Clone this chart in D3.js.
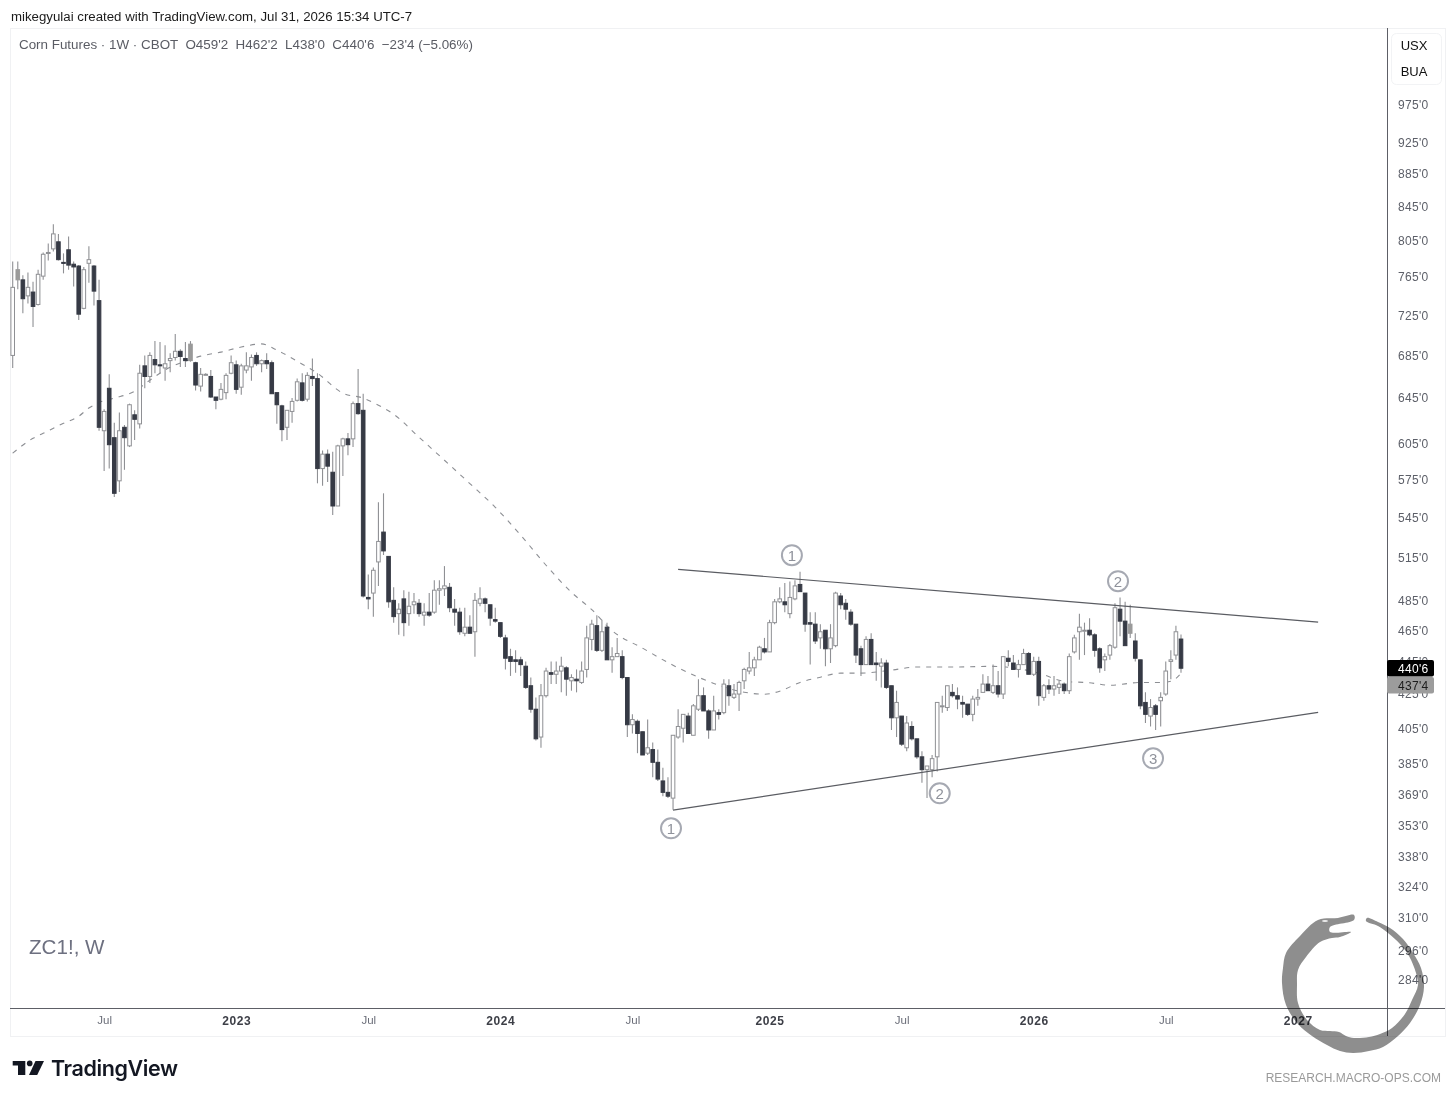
<!DOCTYPE html>
<html>
<head>
<meta charset="utf-8">
<script src="https://cdn.jsdelivr.net/npm/d3@7"></script>
<style>
  html, body { margin: 0; padding: 0; background: #fff; }
  svg { display: block; }
</style>
</head>
<body>
<div id="chart"></div>
<script>
// Corn futures weekly candles. Prices are in cents.

// ---------------------------------------------------------------------------
// Data
// ---------------------------------------------------------------------------

const FIRST_BAR = "2022-02-28";

const opens = [
  685,762,762,745,749,736,766,791,796,804,
  781,795,779,777,732,780,777,740,616,654,
  610,574,619,603,630,622,675,665,681,676,
  673,680,683,689,682,680,678,656,667,665,
  646,644,650,668,676,655,671,674,685,677,
  680,678,650,638,619,633,643,659,644,665,
  663,584,596,581,554,603,609,609,640,634,
  487,490,512,534,516,485,476,486,476,482,
  483,475,477,477,492,493,494,479,477,463,
  467,464,483,486,482,472,470,460,448,446,
  446,442,430,416,400,424,438,437,439,441,
  433,434,432,440,459,468,452,467,446,448,
  448,435,407,409,403,391,393,386,376,370,
  367,400,405,412,401,416,424,415,404,414,
  414,430,423,425,433,439,441,446,453,451,
  470,484,484,476,486,496,490,470,469,460,
  465,453,455,488,483,477,469,453,443,459,
  444,442,444,430,411,412,394,406,399,389,
  382,382,389,418,417,426,424,420,419,413,
  422,426,431,426,430,425,447,444,440,443,
  450,437,445,423,430,428,429,431,427,451,
  464,465,465,462,453,446,449,454,479,471,
  463,458,446,420,412,418,421,425,445,449,459.25
];
const highs = [
  782,782,767,770,760,773,792,802,824,813,
  791,810,782,778,776,799,778,762,635,667,
  623,632,621,640,634,676,685,688,699,698,
  695,687,706,691,698,699,679,673,668,671,
  646,659,668,685,680,677,688,686,688,681,
  687,680,650,639,634,645,663,668,669,682,
  668,599,600,598,604,610,614,642,672,649,
  503,508,557,564,516,494,483,492,491,490,
  486,483,490,499,499,509,497,486,480,480,
  475,490,494,487,482,480,470,462,453,452,
  448,445,435,423,431,441,445,445,448,442,
  437,440,445,468,472,475,472,470,454,460,
  452,435,413,410,403,410,397,393,383,378,
  401,416,413,414,419,434,429,416,424,416,
  434,434,431,433,441,451,448,455,460,472,
  486,494,497,498,499,505,490,477,477,469,
  465,469,491,490,486,479,469,455,461,463,
  451,447,446,430,427,412,412,409,399,392,
  384,390,420,424,430,431,429,424,419,424,
  428,437,436,443,439,448,452,449,446,453,
  451,448,448,431,434,436,433,432,450,462,
  476,470,473,463,454,450,456,483,487,484,
  482,463,446,426,422,419,426,445,452,468,462.25
];
const lows = [
  673,752,727,737,713,735,762,783,793,783,
  769,773,755,720,731,759,735,616,582,584,
  561,565,583,602,608,618,654,659,668,668,
  661,669,680,674,674,679,652,651,667,645,
  635,643,644,667,649,648,668,661,675,669,
  672,649,622,607,608,623,642,642,642,656,
  572,570,573,547,554,578,595,602,630,487,
  479,474,495,517,480,470,462,461,468,476,
  474,468,474,476,482,488,477,468,462,461,
  463,448,481,477,468,470,460,440,436,438,
  436,428,414,398,394,423,431,431,426,424,
  427,426,431,435,452,451,451,446,438,448,
  434,400,402,391,390,390,378,376,368,367,
  361,399,397,402,401,415,415,399,404,410,
  413,418,422,415,428,437,436,446,450,451,
  469,483,477,473,485,491,464,443,456,453,
  442,444,454,479,472,468,444,436,443,443,
  433,429,428,404,400,395,392,398,388,375,
  367,378,381,414,415,423,416,411,412,409,
  418,426,427,425,423,422,442,440,435,443,
  437,436,418,421,425,424,425,425,425,450,
  446,449,461,448,438,439,446,453,461,455,
  460,445,416,408,406,404,406,424,434,446,438
];
const closes = [
  754,773,742,754,734,768,790,792,813,784,
  780,778,776,726,773,784,750,619,633,604,
  564,616,610,639,626,668,665,685,676,675,
  677,682,689,684,680,696,657,667,667,646,
  643,653,666,678,653,675,675,683,677,680,
  677,649,639,617,634,642,660,643,666,663,
  584,596,586,554,603,609,604,640,631,488,
  486,506,527,520,484,474,479,470,481,484,
  476,477,475,492,493,495,480,477,464,467,
  463,485,486,483,473,471,461,447,445,445,
  443,429,416,399,424,439,437,439,442,434,
  435,433,439,460,469,452,464,446,448,450,
  435,407,410,402,390,394,386,377,370,368,
  401,406,413,402,418,424,415,404,415,413,
  431,424,425,432,440,441,446,454,451,470,
  484,486,482,487,495,491,469,469,458,464,
  453,460,490,482,479,469,449,443,459,443,
  443,444,429,411,420,396,408,399,389,382,
  384,388,420,418,430,424,422,419,413,422,
  423,431,427,430,425,448,445,440,443,450,
  437,445,424,430,428,430,431,427,448,460,
  467,465,462,452,441,448,455,480,471,455,
  469,447,418,413,417,413,423,439,446,464,440.75
];
// Bars whose body shows as solid mid grey in the picture.
const greyBars = [1, 35, 220];

// Moving average, sampled by bar number.
const maBars = [0,4,6,10,13,15,17,20,24,27,31,34,37,41,45,49,52,56,60,65,69,72,75,80,85,90,95,100,105,110,114,118,124,130,135,139,144,148,151,155,159,163,167,173,178,185,193,202,207,212,216,222,226,228,230];
const maValues = [596.8,609.5,613.8,622.5,628.7,636,641,645,651.2,661.5,673.7,679.4,684.3,688.2,693.2,696.2,690.2,679.4,668,649.5,645,638.6,630.5,610.4,590.9,571.8,553,531.7,509.6,490.5,478.7,464.7,453.4,442.6,435.2,430.3,426.1,424.9,426.7,432,435.2,437.7,437.7,439.6,441.5,441.5,441.9,437.7,432.7,431.8,430.3,432,432,432.7,437.5];

// Trend lines: [bar number, price] at each end.
const upperTrend = [[131, 506.7], [257, 470.3]];
const lowerTrend = [[130, 360.8], [257, 414.2]];

// Circled wave counts.
const countBars = [153.4, 217.6, 129.6, 182.5, 224.5];
const countPrices = [516.9, 498.3, 351.7, 369.5, 388.2];
const countLabels = ["1", "2", "1", "2", "3"];

const yTicks = [975,925,885,845,805,765,725,685,645,605,575,545,515,485,465,445,425,405,385,369,353,338,324,310,296,284];
const xTickDates = ["2022-07-04","2023-01-02","2023-07-03","2024-01-01","2024-07-01","2025-01-06","2025-07-07","2026-01-05","2026-07-06","2027-01-04"];
const xTickLabels = ["Jul","2023","Jul","2024","Jul","2025","Jul","2026","Jul","2027"];

// ---------------------------------------------------------------------------
// Config
// ---------------------------------------------------------------------------

const WIDTH = 1456;
const HEIGHT = 1100;
const PANE = { left: 10, top: 28, right: 1445, bottom: 1036, axisX: 1387, axisY: 1008 };
const COLORS = { down: "#363a45", up: "#fff", wick: "#8f9094", border: "#8f9094", grey: "#9a9a9a", count: "#a6a9b2" };
const SANS = "'Liberation Sans', Arial, sans-serif";
const WEEK = 7 * 24 * 3600 * 1000;

const barDate = (i) => new Date(+new Date(FIRST_BAR) + i * WEEK);

const x = d3.scaleUtc()
  .domain([barDate(0), barDate(230)])
  .range([12.7, 1181]);
const y = d3.scaleLog()
  .domain([284, 975])
  .range([980, 105]);
const xBar = (i) => x(barDate(i));

const svg = d3.select("#chart")
  .append("svg")
  .attr("width", WIDTH)
  .attr("height", HEIGHT)
  .attr("font-family", SANS);

svg.append("rect").attr("width", WIDTH).attr("height", HEIGHT).attr("fill", "#fff");

// ---------------------------------------------------------------------------
// Frame and axes
// ---------------------------------------------------------------------------

svg.append("rect")
  .attr("x", PANE.left + 0.5)
  .attr("y", PANE.top + 0.5)
  .attr("width", PANE.right - PANE.left)
  .attr("height", PANE.bottom - PANE.top)
  .attr("fill", "none")
  .attr("stroke", "#f0f1f3");

const yAxis = svg.append("g")
  .attr("transform", `translate(${PANE.axisX},0)`)
  .call(d3.axisRight(y).tickValues(yTicks).tickSize(0).tickPadding(11).tickFormat((d) => `${d}'0`));
yAxis.select(".domain").remove();
yAxis.selectAll("text")
  .attr("font-family", SANS)
  .attr("font-size", 12)
  .attr("letter-spacing", 0.3)
  .attr("fill", "#5c5f68");

const tickDates = xTickDates.map((d) => new Date(d));
const xAxis = svg.append("g")
  .attr("transform", `translate(0,${PANE.axisY})`)
  .call(d3.axisBottom(x).tickValues(tickDates).tickSize(0).tickPadding(8)
    .tickFormat((d, i) => xTickLabels[i]));
xAxis.select(".domain").remove();
xAxis.selectAll("text")
  .attr("font-family", SANS)
  .attr("font-size", (d, i) => (xTickLabels[i] === "Jul" ? 11.5 : 12))
  .attr("font-weight", (d, i) => (xTickLabels[i] === "Jul" ? 400 : 700))
  .attr("letter-spacing", (d, i) => (xTickLabels[i] === "Jul" ? 0 : 0.6))
  .attr("fill", (d, i) => (xTickLabels[i] === "Jul" ? "#6a6d78" : "#3d3f47"));

svg.append("line")
  .attr("x1", PANE.left).attr("x2", PANE.right)
  .attr("y1", PANE.axisY + 0.5).attr("y2", PANE.axisY + 0.5)
  .attr("stroke", "#5d5f66");
svg.append("line")
  .attr("x1", PANE.axisX + 0.5).attr("x2", PANE.axisX + 0.5)
  .attr("y1", PANE.top).attr("y2", PANE.bottom)
  .attr("stroke", "#5d5f66");

// ---------------------------------------------------------------------------
// Moving average, candles, trend lines
// ---------------------------------------------------------------------------

const maLine = d3.line()
  .x((d, i) => xBar(maBars[i]))
  .y((d) => y(d))
  .curve(d3.curveMonotoneX);
svg.append("path")
  .attr("d", maLine(maValues))
  .attr("fill", "none")
  .attr("stroke", "#8d8f94")
  .attr("stroke-width", 1.1)
  .attr("stroke-dasharray", "5,6");

const candles = svg.append("g")
  .selectAll("g")
  .data(d3.range(opens.length))
  .join("g");

candles.append("line")
  .attr("x1", (i) => xBar(i))
  .attr("x2", (i) => xBar(i))
  .attr("y1", (i) => y(highs[i]))
  .attr("y2", (i) => y(lows[i]))
  .attr("stroke", COLORS.wick)
  .attr("stroke-width", 1.1);

candles.append("rect")
  .attr("x", (i) => xBar(i) - 1.8)
  .attr("width", 3.6)
  .attr("y", (i) => y(Math.max(opens[i], closes[i])))
  .attr("height", (i) => Math.max(1, Math.abs(y(opens[i]) - y(closes[i]))))
  .attr("fill", (i) => {
    if (greyBars.includes(i)) return COLORS.grey;
    return closes[i] < opens[i] ? COLORS.down : COLORS.up;
  })
  .attr("stroke", (i) => {
    if (greyBars.includes(i)) return COLORS.grey;
    return closes[i] < opens[i] ? COLORS.down : COLORS.border;
  })
  .attr("stroke-width", 1);

const trend = d3.line()
  .x((d) => xBar(d[0]))
  .y((d) => y(d[1]));
for (const t of [upperTrend, lowerTrend]) {
  svg.append("path")
    .attr("d", trend(t))
    .attr("fill", "none")
    .attr("stroke", "#5a5c62")
    .attr("stroke-width", 1.2);
}

// Circled counts.
const counts = svg.append("g")
  .selectAll("g")
  .data(countLabels)
  .join("g")
  .attr("transform", (d, i) => `translate(${xBar(countBars[i])},${y(countPrices[i])})`);
counts.append("circle")
  .attr("r", 10)
  .attr("fill", "#fff")
  .attr("stroke", COLORS.count)
  .attr("stroke-width", 2);
counts.append("text")
  .attr("text-anchor", "middle")
  .attr("dy", "0.36em")
  .attr("font-size", 15)
  .attr("fill", "#8f929b")
  .text((d) => d);

// ---------------------------------------------------------------------------
// Last price labels, currency box
// ---------------------------------------------------------------------------

const priceTags = [
  { value: "440'6", top: 660, fill: "#000", text: "#fff" },
  { value: "437'4", top: 677, fill: "#9c9c9c", text: "#1c1c1c" }
];
for (const tag of priceTags) {
  svg.append("rect")
    .attr("x", PANE.axisX).attr("y", tag.top)
    .attr("width", 47).attr("height", 16.5)
    .attr("rx", 2)
    .attr("fill", tag.fill);
  svg.append("text")
    .attr("x", PANE.axisX + 11).attr("y", tag.top + 12.5)
    .attr("font-size", 12)
    .attr("letter-spacing", 0.3)
    .attr("fill", tag.text)
    .text(tag.value);
}

svg.append("rect")
  .attr("x", 1391.5).attr("y", 33.5)
  .attr("width", 50).attr("height", 51)
  .attr("rx", 5)
  .attr("fill", "#fff")
  .attr("stroke", "#f2f3f5");
svg.append("text").attr("x", 1414).attr("y", 50).attr("text-anchor", "middle").attr("font-size", 13).attr("fill", "#111").text("USX");
svg.append("text").attr("x", 1414).attr("y", 76).attr("text-anchor", "middle").attr("font-size", 13).attr("fill", "#111").text("BUA");

// ---------------------------------------------------------------------------
// Texts
// ---------------------------------------------------------------------------

svg.append("text")
  .attr("x", 11).attr("y", 21)
  .attr("font-size", 13.25)
  .attr("fill", "#1b1b1b")
  .text("mikegyulai created with TradingView.com, Jul 31, 2026 15:34 UTC-7");

svg.append("text")
  .attr("x", 19).attr("y", 49)
  .attr("font-size", 13.4)
  .attr("fill", "#5a5c64")
  .style("white-space", "pre")
  .text("Corn Futures · 1W · CBOT  O459'2  H462'2  L438'0  C440'6  −23'4 (−5.06%)");

svg.append("text")
  .attr("x", 29).attr("y", 954)
  .attr("font-size", 20.6)
  .attr("fill", "#6d7080")
  .text("ZC1!, W");

svg.append("text")
  .attr("x", 1441).attr("y", 1082)
  .attr("text-anchor", "end")
  .attr("font-size", 12)
  .attr("fill", "#9a9a9a")
  .text("RESEARCH.MACRO-OPS.COM");

// TradingView mark and wordmark.
const logo = svg.append("g").attr("fill", "#131722");
logo.append("path").attr("d", "M12.7 1061H25.3V1075H18V1065.5H12.7Z");
logo.append("circle").attr("cx", 29.7).attr("cy", 1063.4).attr("r", 2.8);
logo.append("path").attr("d", "M35.5 1061H44L37.2 1075H29Z");
logo.append("text")
  .attr("x", 51).attr("y", 1076)
  .attr("font-family", "Inter, sans-serif")
  .attr("font-size", 21.5)
  .attr("font-weight", 600)
  .attr("letter-spacing", -0.4)
  .text("TradingView");

// ---------------------------------------------------------------------------
// Watermark, a snake ring laid over the chart
// ---------------------------------------------------------------------------

const ringOutline = [
  [1354,915],[1338,918],[1318,920],[1300,936],[1286,953],[1283,968],[1282,983],[1286,1005],[1298,1024],
  [1312,1036],[1327,1045],[1340,1051],[1353,1053],[1369,1051],[1383,1047],[1398,1036],[1410,1023],[1420,1005],
  [1424,987],[1421,968],[1413,953],[1403,939],[1390,928],[1378,922],[1367,918],
  [1366,921],[1378,926],[1388,933],[1400,944],[1409,956],[1416,973],[1418,985],[1412,1000],[1405,1014],
  [1392,1028],[1380,1034],[1369,1037],[1354,1038],[1346,1036],[1339,1032],[1330,1031],[1320,1030],[1307,1020],
  [1298,1003],[1297,985],[1298,970],[1306,957],[1320,942],[1332,938],[1340,937],[1351,932],[1330,932],[1330,927],[1354,920]
];
svg.append("path")
  .attr("d", d3.line().curve(d3.curveCatmullRomClosed.alpha(0.5))(ringOutline))
  .attr("fill", "#8e8e8e")
  .style("mix-blend-mode", "multiply");
svg.append("ellipse")
  .attr("cx", 1325).attr("cy", 921)
  .attr("rx", 3).attr("ry", 1)
  .attr("fill", "#eee");
</script>
</body>
</html>
